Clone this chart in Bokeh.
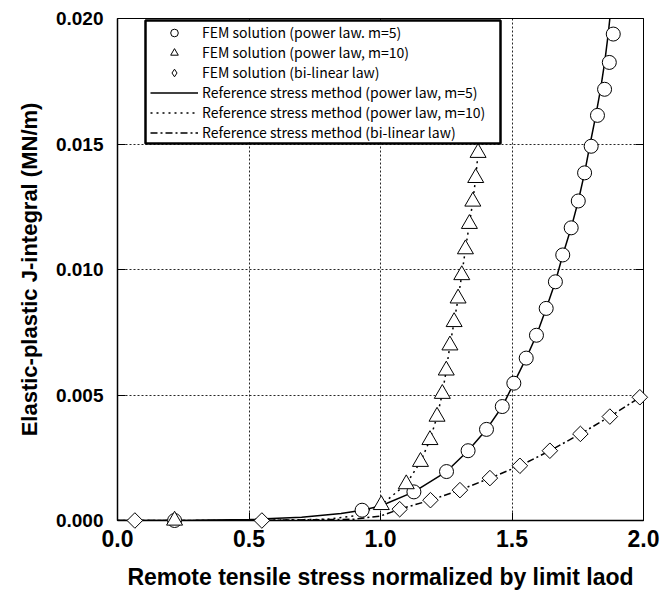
import math
from bokeh.plotting import figure
from bokeh.models import (Range1d, LinearAxis, Legend, LegendItem, FixedTicker,
                          PrintfTickFormatter, BoxAnnotation)
from bokeh.embed import file_html
from bokeh.resources import INLINE

# FEM solution (power law, m=5)
circ_x = [0.217, 0.930, 1.127, 1.251, 1.333, 1.403, 1.463, 1.507, 1.554, 1.593, 1.630,
          1.665, 1.693, 1.725, 1.752, 1.776, 1.801, 1.825, 1.852, 1.870, 1.885]
circ_y = [0.0, 0.00041, 0.00114, 0.00195, 0.00278, 0.00363, 0.00454, 0.00547, 0.00647, 0.00738, 0.00845,
          0.00951, 0.01058, 0.01166, 0.01273, 0.01385, 0.01491, 0.01614, 0.01718, 0.01825, 0.01938]
# FEM solution (power law, m=10)
tri_x = [0.217, 1.003, 1.098, 1.152, 1.188, 1.215, 1.235, 1.250, 1.264, 1.280, 1.295,
         1.309, 1.323, 1.338, 1.351, 1.362, 1.371]
tri_y = [0.0, 0.00062, 0.00145, 0.00234, 0.00321, 0.00414, 0.00505, 0.00598, 0.00698, 0.00791, 0.00885,
         0.00978, 0.01081, 0.01182, 0.01271, 0.01365, 0.01465]
# FEM solution (bi-linear law)
dia_x = [0.066, 0.549, 1.073, 1.190, 1.302, 1.416, 1.530, 1.644, 1.760, 1.872, 1.986]
dia_y = [0.0, 0.0, 0.00045, 0.00081, 0.00121, 0.00169, 0.00218, 0.00278, 0.00345, 0.00414, 0.00491]

# Reference stress method curves
ref5_x = [0.0, 0.3, 0.5, 0.7, 0.85, 0.93, 1.0, 1.127, 1.251, 1.333, 1.403, 1.463, 1.507, 1.554,
          1.593, 1.630, 1.665, 1.693, 1.725, 1.752, 1.776, 1.797, 1.818, 1.837, 1.853, 1.866, 1.877]
ref5_y = [0.0, 0.00001, 0.00004, 0.00013, 0.00028, 0.00041, 0.00058, 0.00114, 0.00195, 0.00278,
          0.00363, 0.00454, 0.00547, 0.00647, 0.00738, 0.00845, 0.00951, 0.01058, 0.01166, 0.01273,
          0.01385, 0.01500, 0.01610, 0.01720, 0.01830, 0.01940, 0.02050]
ref10_x = [0.0, 0.5, 0.8, 0.9, 1.003, 1.098, 1.152, 1.188, 1.215, 1.235, 1.250, 1.264, 1.280,
           1.295, 1.309, 1.323, 1.338, 1.351, 1.362, 1.371, 1.385, 1.400]
ref10_y = [0.0, 0.0, 0.00005, 0.00018, 0.00062, 0.00145, 0.00234, 0.00321, 0.00414, 0.00505,
           0.00598, 0.00698, 0.00791, 0.00885, 0.00978, 0.01081, 0.01182, 0.01271, 0.01365,
           0.01465, 0.01650, 0.01850]
bilin_x = [0.0, 0.5, 0.9, 1.0, 1.073, 1.190, 1.302, 1.416, 1.530, 1.644, 1.760, 1.872, 2.0]
bilin_y = [0.0, 0.0, 0.00005, 0.00018, 0.00045, 0.00081, 0.00121, 0.00169, 0.00218, 0.00278,
           0.00345, 0.00414, 0.00500]

x_ticks = [0.0, 0.5, 1.0, 1.5, 2.0]
y_ticks = [0.0, 0.005, 0.010, 0.015, 0.020]

x_label = "Remote tensile stress normalized by limit laod"
y_label = "Elastic-plastic J-integral (MN/m)"
legend_labels = ["FEM solution (power law. m=5)",
                 "FEM solution (power law, m=10)",
                 "FEM solution (bi-linear law)",
                 "Reference stress method (power law, m=5)",
                 "Reference stress method (power law, m=10)",
                 "Reference stress method (bi-linear law)"]

# layout constants (pixels)
W, H = 660, 598
BL, BR, BT, BB = 117, 17, 18, 78
FW, FH = W - BL - BR, H - BT - BB
X0, X1, Y0, Y1 = 0.0, 2.0, 0.0, 0.020

p = figure(width=W, height=H, output_backend="svg", toolbar_location=None,
           x_range=Range1d(X0, X1), y_range=Range1d(Y0, Y1),
           min_border_left=BL, min_border_right=BR, min_border_top=BT, min_border_bottom=BB)
p.background_fill_color = "white"
p.border_fill_color = "white"
p.outline_line_color = "black"
p.outline_line_width = 1

# Axes
p.xaxis.ticker = FixedTicker(ticks=x_ticks)
p.yaxis.ticker = FixedTicker(ticks=y_ticks)
p.xaxis.formatter = PrintfTickFormatter(format="%.1f")
p.yaxis.formatter = PrintfTickFormatter(format="%.3f")
for ax in (p.xaxis[0], p.yaxis[0]):
    ax.axis_line_color = "black"
    ax.axis_line_width = 1.5
    ax.major_tick_in = 8
    ax.major_tick_out = 0
    ax.minor_tick_line_color = None
    ax.major_tick_line_color = "black"
    ax.major_label_text_font = "Liberation Sans"
    ax.major_label_text_font_style = "bold"
    ax.major_label_text_color = "black"
    ax.axis_label_text_font = "Liberation Sans"
    ax.axis_label_text_font_style = "bold"
    ax.axis_label_text_color = "black"
p.xaxis.major_label_text_font_size = "23px"
p.yaxis.major_label_text_font_size = "19px"
p.xaxis.major_label_standoff = 9
p.yaxis.major_label_standoff = 14
p.xaxis.axis_label = x_label
p.yaxis.axis_label = y_label
p.xaxis.axis_label_text_font_size = "23px"
p.yaxis.axis_label_text_font_size = "22px"
p.xaxis.axis_label_standoff = 14
p.yaxis.axis_label_standoff = 11

right = LinearAxis(ticker=FixedTicker(ticks=y_ticks), major_label_text_font_size="0px",
                   major_tick_in=8, major_tick_out=0, minor_tick_line_color=None,
                   axis_line_color="black", axis_line_width=1)
p.add_layout(right, "right")

# Grid
p.xgrid.ticker = FixedTicker(ticks=[0.5, 1.0, 1.5])
p.ygrid.ticker = FixedTicker(ticks=[0.005, 0.010, 0.015])
for g in (p.xgrid[0], p.ygrid[0]):
    g.grid_line_color = "black"
    g.grid_line_dash = "2 2"
    g.grid_line_width = 1
    g.grid_line_alpha = 0.85

# Lines
l5 = p.line(ref5_x, ref5_y, line_color="black", line_width=1.5)
l10 = p.line(ref10_x, ref10_y, line_color="black", line_width=1.5, line_dash="2 4")
lb = p.line(bilin_x, bilin_y, line_color="black", line_width=1.5, line_dash="7 3 2 3")

# Markers (overlay level so the ones on the axis are not clipped)
mc = p.scatter(circ_x, circ_y, marker="circle", size=14, fill_color="white",
               line_color="black", line_width=1, level="overlay")
mt = p.scatter(tri_x, tri_y, marker="triangle", size=16, fill_color="white",
               line_color="black", line_width=1, level="overlay")
md = p.scatter(dia_x, dia_y, marker="square", angle=math.pi / 4, size=11, fill_color="white",
               line_color="black", line_width=1, level="overlay")
# legend key for the diamonds (legend keys ignore the marker angle); hidden in the plot
md_key = p.scatter(dia_x, dia_y, marker="diamond", size=16, fill_color="white",
                   line_color="black", line_width=1, visible=False)

# Legend box geometry (pixels, relative to the frame's bottom-left corner)
BOX_X, BOX_Y, BOX_W, BOX_H = 28, 377, 355, 123
LG_SHIFT_X, LG_SHIFT_Y = 5, 1          # legend content sits inside the box
LG_PAD, LG_ROW, LG_GLYPH, LG_STAND = 3, 19, 48, 4

items = [LegendItem(label=legend_labels[0], renderers=[mc]),
         LegendItem(label=legend_labels[1], renderers=[mt]),
         LegendItem(label=legend_labels[2], renderers=[md_key]),
         LegendItem(label=legend_labels[3], renderers=[l5]),
         LegendItem(label=legend_labels[4], renderers=[l10]),
         LegendItem(label=legend_labels[5], renderers=[lb])]
legend = Legend(items=items, location=(BOX_X + LG_SHIFT_X, BOX_Y + LG_SHIFT_Y))
legend.label_text_font = "Noto Sans CJK JP"
legend.label_text_font_size = "14px"
legend.label_text_color = "black"
legend.label_height = LG_ROW
legend.glyph_height = LG_ROW
legend.glyph_width = LG_GLYPH
legend.label_standoff = LG_STAND
legend.label_width = BOX_W - LG_SHIFT_X - 3 - 2 * LG_PAD - LG_GLYPH - LG_STAND
legend.spacing = 0
legend.padding = LG_PAD
legend.margin = 0
legend.border_line_color = None
legend.background_fill_color = "white"
legend.background_fill_alpha = 1.0
legend.inactive_fill_alpha = 0.0
p.add_layout(legend, "center")

# thick frame around the legend
sx = (X1 - X0) / FW
sy = (Y1 - Y0) / FH
frame_box = BoxAnnotation(left=X0 + BOX_X * sx, right=X0 + (BOX_X + BOX_W) * sx,
                          bottom=Y0 + BOX_Y * sy, top=Y0 + (BOX_Y + BOX_H) * sy,
                          fill_color="white", fill_alpha=0.0, line_color="black", line_width=2.5,
                          line_alpha=1.0, level="overlay")
p.add_layout(frame_box)

open("out.html", "w").write(file_html(p, INLINE))
